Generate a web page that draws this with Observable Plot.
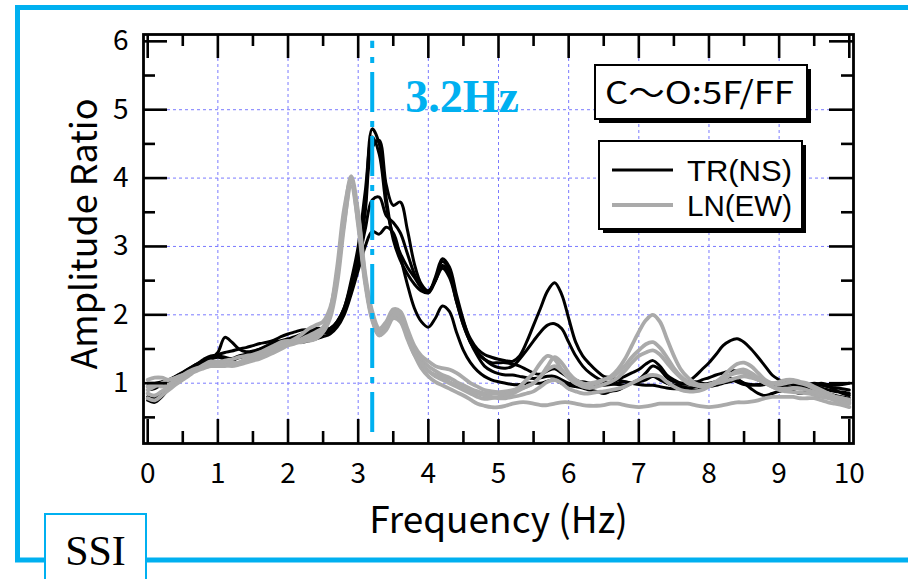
<!DOCTYPE html>
<html>
<head>
<meta charset="utf-8">
<script src="https://cdn.jsdelivr.net/npm/d3@7"></script>
<script src="https://cdn.jsdelivr.net/npm/@observablehq/plot@0.6"></script>
<style>
  html, body { margin: 0; padding: 0; background: #fff; }
  #chart { width: 908px; height: 579px; position: relative; overflow: hidden; }
</style>
</head>
<body>
<div id="chart"></div>
<script>
// ---------- data ----------
const freq = [0.0,0.1,0.2,0.3,0.4,0.5,0.6,0.7,0.8,0.9,
  1.0,1.1,1.2,1.3,1.4,1.5,1.6,1.7,1.8,1.9,
  2.0,2.1,2.2,2.3,2.4,2.5,2.6,2.7,2.8,2.9,
  3.0,3.1,3.2,3.3,3.4,3.5,3.6,3.7,3.8,3.9,
  4.0,4.1,4.2,4.3,4.4,4.5,4.6,4.7,4.8,4.9,
  5.0,5.1,5.2,5.3,5.4,5.5,5.6,5.7,5.8,5.9,
  6.0,6.1,6.2,6.3,6.4,6.5,6.6,6.7,6.8,6.9,
  7.0,7.1,7.2,7.3,7.4,7.5,7.6,7.7,7.8,7.9,
  8.0,8.1,8.2,8.3,8.4,8.5,8.6,8.7,8.8,8.9,
  9.0,9.1,9.2,9.3,9.4,9.5,9.6,9.7,9.8,9.9,10.0];

// TR(NS) records
const tr1 = [0.95,0.97,1.0,1.05,1.1,1.15,1.2,1.25,1.3,1.36,
  1.45,1.67,1.6,1.5,1.46,1.47,1.5,1.52,1.55,1.58,
  1.6,1.63,1.68,1.72,1.74,1.76,1.8,1.9,2.1,2.45,
  2.9,3.6,4.72,4.5,3.7,3.1,2.8,2.6,2.45,2.35,
  2.32,2.5,2.78,2.65,2.25,1.9,1.65,1.5,1.42,1.38,
  1.35,1.33,1.32,1.4,1.6,1.85,2.1,2.35,2.47,2.3,
  1.95,1.6,1.4,1.28,1.18,1.1,1.08,1.05,1.02,1.0,
  1.02,1.05,1.1,1.08,1.0,0.97,0.98,1.0,1.02,1.0,
  0.98,1.0,1.03,1.05,1.02,0.98,0.97,0.98,1.0,0.97,
  0.95,0.95,0.93,0.92,0.93,0.95,0.93,0.9,0.88,0.87,0.85];
const tr2 = [0.8,0.78,0.85,0.95,1.05,1.12,1.18,1.22,1.28,1.35,
  1.38,1.35,1.33,1.38,1.42,1.45,1.47,1.5,1.55,1.6,
  1.62,1.67,1.7,1.72,1.72,1.73,1.75,1.85,2.05,2.35,
  2.8,3.5,4.45,4.55,3.9,3.6,3.65,3.25,2.75,2.45,
  2.35,2.5,2.72,2.6,2.2,1.85,1.6,1.45,1.35,1.27,
  1.23,1.22,1.25,1.35,1.48,1.62,1.75,1.85,1.87,1.8,
  1.6,1.4,1.25,1.15,1.08,1.02,1.0,0.98,0.97,1.0,
  1.05,1.15,1.25,1.2,1.08,1.02,1.0,1.02,1.1,1.2,
  1.3,1.42,1.55,1.62,1.65,1.6,1.5,1.38,1.25,1.12,
  1.05,1.0,0.98,0.97,0.98,1.0,0.98,0.95,0.93,0.92,0.9];
const tr3 = [0.9,0.92,0.98,1.03,1.08,1.15,1.22,1.28,1.35,1.4,
  1.4,1.38,1.36,1.4,1.42,1.45,1.5,1.55,1.6,1.62,
  1.65,1.68,1.72,1.75,1.8,1.8,1.8,1.88,2.05,2.35,
  2.75,3.25,3.68,3.72,3.45,3.35,3.2,2.9,2.6,2.4,
  2.35,2.5,2.68,2.55,2.2,1.85,1.6,1.45,1.35,1.3,
  1.3,1.3,1.28,1.25,1.2,1.15,1.13,1.18,1.21,1.15,
  1.08,1.05,1.0,0.98,0.97,0.98,1.0,1.05,1.1,1.15,
  1.2,1.28,1.33,1.25,1.12,1.05,1.0,0.98,1.0,1.05,
  1.08,1.12,1.15,1.18,1.18,1.15,1.1,1.05,1.0,0.98,
  0.97,0.98,1.0,0.98,0.95,0.95,0.97,0.95,0.9,0.85,0.82];
const tr4 = [0.75,0.72,0.8,0.92,1.02,1.1,1.15,1.2,1.25,1.28,
  1.3,1.32,1.35,1.37,1.4,1.42,1.45,1.48,1.52,1.55,
  1.58,1.6,1.6,1.62,1.65,1.68,1.72,1.82,2.0,2.3,
  2.65,3.0,3.22,3.18,3.28,3.2,2.85,2.45,2.1,1.9,
  1.82,1.95,2.13,2.05,1.75,1.48,1.3,1.18,1.1,1.05,
  1.02,1.0,0.98,0.98,1.0,1.0,1.0,1.03,1.05,1.0,
  0.97,0.95,0.93,0.9,0.88,0.85,0.88,0.9,0.95,1.0,
  1.05,1.08,1.1,1.05,1.0,0.97,0.95,0.93,0.9,0.92,
  0.95,0.97,1.0,1.02,1.05,1.0,0.92,0.85,0.82,0.85,
  0.88,0.9,0.88,0.85,0.88,0.9,0.88,0.85,0.82,0.8,0.78];
const tr5 = [1.0,1.0,1.02,1.05,1.1,1.16,1.22,1.28,1.33,1.38,
  1.42,1.45,1.47,1.5,1.52,1.55,1.58,1.6,1.63,1.68,
  1.72,1.75,1.78,1.78,1.76,1.75,1.78,1.9,2.1,2.5,
  3.0,3.8,4.6,4.35,3.6,3.15,2.9,2.7,2.55,2.4,
  2.33,2.55,2.82,2.7,2.3,1.92,1.6,1.4,1.25,1.18,
  1.14,1.12,1.12,1.1,1.08,1.07,1.08,1.1,1.1,1.05,
  1.0,1.0,1.02,1.0,0.98,0.97,0.98,1.0,1.02,1.0,
  0.98,0.97,0.97,0.95,0.93,0.92,0.92,0.93,0.95,0.97,
  1.0,1.02,1.05,1.07,1.05,1.0,0.98,0.97,0.98,1.0,
  1.0,1.02,1.0,0.98,0.97,0.98,1.0,0.98,0.97,0.98,1.0];

// LN(EW) records
const ln1 = [1.05,1.08,1.08,1.05,1.08,1.12,1.18,1.22,1.25,1.28,
  1.3,1.33,1.35,1.38,1.4,1.42,1.45,1.48,1.52,1.56,
  1.6,1.65,1.72,1.8,1.85,1.9,2.1,2.6,3.45,4.03,
  3.5,2.6,2.05,1.8,1.9,2.08,2.05,1.8,1.55,1.4,
  1.32,1.25,1.22,1.2,1.15,1.08,1.0,0.95,0.9,0.88,
  0.87,0.88,0.9,0.92,0.95,1.0,1.1,1.25,1.38,1.3,
  1.15,1.05,1.0,0.98,1.0,1.05,1.1,1.2,1.35,1.55,
  1.75,1.92,2.0,1.9,1.65,1.4,1.2,1.08,1.0,0.97,
  0.98,1.02,1.1,1.2,1.28,1.3,1.25,1.15,1.05,1.0,
  0.98,1.0,1.02,1.0,0.97,0.92,0.88,0.85,0.8,0.75,0.72];
const ln2 = [0.85,0.82,0.88,0.95,1.02,1.1,1.15,1.2,1.25,1.3,
  1.32,1.3,1.28,1.3,1.35,1.4,1.45,1.5,1.55,1.6,
  1.62,1.6,1.6,1.65,1.7,1.75,1.95,2.45,3.3,3.95,
  3.45,2.55,2.0,1.75,1.85,2.05,2.0,1.75,1.5,1.35,
  1.25,1.18,1.12,1.08,1.02,0.97,0.92,0.88,0.85,0.85,
  0.85,0.86,0.88,0.95,1.05,1.15,1.3,1.4,1.35,1.2,
  1.08,1.0,0.98,1.0,1.02,1.05,1.08,1.15,1.25,1.38,
  1.48,1.57,1.6,1.52,1.38,1.22,1.1,1.02,0.98,0.97,
  0.98,1.02,1.08,1.12,1.15,1.15,1.1,1.05,1.02,1.0,
  1.02,1.05,1.05,1.02,1.0,0.95,0.9,0.85,0.8,0.78,0.75];
const ln3 = [0.78,0.75,0.82,0.9,0.98,1.05,1.12,1.2,1.27,1.32,
  1.3,1.27,1.25,1.27,1.3,1.33,1.36,1.4,1.45,1.5,
  1.55,1.58,1.62,1.66,1.72,1.78,2.0,2.55,3.35,3.88,
  3.35,2.5,1.95,1.7,1.8,1.98,1.95,1.72,1.48,1.3,
  1.18,1.1,1.05,1.0,0.95,0.9,0.85,0.8,0.77,0.78,
  0.8,0.82,0.85,0.9,0.95,1.0,1.1,1.2,1.25,1.18,
  1.08,1.0,0.95,0.93,0.95,0.98,1.02,1.08,1.18,1.3,
  1.4,1.45,1.48,1.42,1.3,1.18,1.08,1.0,0.97,0.95,
  0.97,1.0,1.02,1.05,1.08,1.1,1.08,1.05,1.0,0.95,
  0.9,0.88,0.87,0.86,0.85,0.83,0.8,0.78,0.75,0.72,0.7];
const ln4 = [0.9,0.95,1.0,1.05,1.08,1.12,1.15,1.18,1.22,1.26,
  1.3,1.32,1.3,1.3,1.32,1.35,1.38,1.42,1.48,1.55,
  1.6,1.62,1.65,1.7,1.75,1.82,2.05,2.6,3.4,3.98,
  3.4,2.5,1.95,1.72,1.82,2.0,1.95,1.68,1.42,1.22,
  1.1,1.02,0.97,0.92,0.87,0.82,0.76,0.7,0.67,0.65,
  0.65,0.67,0.7,0.72,0.72,0.7,0.68,0.68,0.7,0.72,
  0.72,0.7,0.68,0.67,0.67,0.68,0.7,0.7,0.68,0.66,
  0.65,0.66,0.68,0.7,0.7,0.7,0.7,0.7,0.68,0.66,
  0.65,0.66,0.68,0.7,0.72,0.72,0.73,0.75,0.78,0.8,
  0.8,0.8,0.8,0.78,0.78,0.78,0.75,0.72,0.7,0.68,0.65];
const ln5 = [0.95,0.98,0.95,0.98,1.05,1.1,1.15,1.2,1.23,1.25,
  1.25,1.25,1.27,1.3,1.35,1.38,1.4,1.45,1.5,1.55,
  1.58,1.6,1.62,1.62,1.65,1.75,2.05,2.7,3.55,3.98,
  3.3,2.45,1.92,1.7,1.78,1.95,1.9,1.65,1.42,1.28,
  1.18,1.12,1.08,1.02,0.97,0.92,0.88,0.85,0.82,0.8,
  0.78,0.78,0.8,0.82,0.85,0.88,0.95,1.02,1.05,1.0,
  0.92,0.88,0.85,0.85,0.87,0.88,0.9,0.92,0.95,1.0,
  1.05,1.1,1.12,1.1,1.02,0.95,0.9,0.88,0.88,0.9,
  0.95,1.0,1.05,1.12,1.18,1.2,1.15,1.08,1.0,0.95,
  0.92,0.92,0.93,0.92,0.9,0.87,0.85,0.82,0.8,0.78,0.76];

const seriesNames = ["TR(NS)", "LN(EW)"];
const trRecords = [tr1, tr2, tr3, tr4, tr5];
const lnRecords = [ln1, ln2, ln3, ln4, ln5];

const xTicksMajor = [0,1,2,3,4,5,6,7,8,9,10];
const xTicksMinor = [0.5,1.5,2.5,3.5,4.5,5.5,6.5,7.5,8.5,9.5];
const yTicksMajor = [1,2,3,4,5,6];
const yTicksMinor = [0.5,1.5,2.5,3.5,4.5,5.5];
const xGrid = [1,2,3,4,5,6,7,8,9];
const yGrid = [1,2,3,4,5];

const xLabel = "Frequency (Hz)";
const yLabel = "Amplitude Ratio";
const peakFreq = [3.2];
const peakLineRange = [0.28, 6.0];
const peakText = ["3.2Hz"];
const peakTextPos = [3.67, 5.18];
const caseLabel = "C〜O:5F/FF";
const panelLabel = "SSI";

// ---------- build table ----------
function toRows(records, name) {
  const rows = [];
  records.forEach((vals, i) => {
    vals.forEach((v, j) => rows.push({f: freq[j], v, id: name + i, series: name}));
  });
  return rows;
}
const trRows = toRows(trRecords, seriesNames[0]);
const lnRows = toRows(lnRecords, seriesNames[1]);

const W = 908, H = 579;
const mL = 143, mR = 55, mT = 34, mB = 136;
const frameH = H - mT - mB, frameW = W - mL - mR;
const majorLen = 24, minorLen = 12;
const CYAN = "#00b0f0";
const GRAY = "#aaaaaa";
const sansFont = "'Noto Sans CJK JP', 'Noto Sans', sans-serif";
const legendFont = "'Liberation Sans', Arial, sans-serif";

const plot = Plot.plot({
  width: W, height: H,
  marginLeft: mL, marginRight: mR, marginTop: mT, marginBottom: mB,
  style: {fontFamily: sansFont, fontSize: "27px", color: "#000", background: "transparent"},
  x: {domain: [-0.06, 10.06]},
  y: {domain: [0.118, 6.1]},
  marks: [
    Plot.ruleX(xGrid, {x: d => d, stroke: "#7a7aff", strokeDasharray: "3,3", strokeWidth: 1}),
    Plot.ruleY(yGrid, {y: d => d, stroke: "#7a7aff", strokeDasharray: "3,3", strokeWidth: 1}),
    Plot.line(trRows, {x: "f", y: "v", z: "id", stroke: "#000", strokeWidth: 3, curve: "catmull-rom"}),
    Plot.line(lnRows, {x: "f", y: "v", z: "id", stroke: GRAY, strokeWidth: 3.8, curve: "catmull-rom"}),
    Plot.ruleX(peakFreq, {x: d => d, y1: peakLineRange[0], y2: peakLineRange[1], stroke: CYAN, strokeWidth: 4, strokeDasharray: "40,9,6,9"}),
    // ticks (inward)
    Plot.ruleX(xTicksMajor, {x: d => d, insetTop: frameH - majorLen, stroke: "#000", strokeWidth: 2.6}),
    Plot.ruleX(xTicksMinor, {x: d => d, insetTop: frameH - minorLen, stroke: "#000", strokeWidth: 2.6}),
    Plot.ruleX(xTicksMajor, {x: d => d, insetBottom: frameH - majorLen, stroke: "#000", strokeWidth: 2.6}),
    Plot.ruleX(xTicksMinor, {x: d => d, insetBottom: frameH - minorLen, stroke: "#000", strokeWidth: 2.6}),
    Plot.ruleY(yTicksMajor, {y: d => d, insetRight: frameW - majorLen, stroke: "#000", strokeWidth: 2.6}),
    Plot.ruleY(yTicksMinor, {y: d => d, insetRight: frameW - minorLen, stroke: "#000", strokeWidth: 2.6}),
    Plot.ruleY(yTicksMajor, {y: d => d, insetLeft: frameW - majorLen, stroke: "#000", strokeWidth: 2.6}),
    Plot.ruleY(yTicksMinor, {y: d => d, insetLeft: frameW - minorLen, stroke: "#000", strokeWidth: 2.6}),
    Plot.frame({stroke: "#000", strokeWidth: 2.8}),
    Plot.axisX({ticks: xTicksMajor, tickFormat: d => String(d), tickSize: 0, tickPadding: 20, label: null, fontSize: 28}),
    Plot.axisY({ticks: yTicksMajor, tickFormat: d => String(d), tickSize: 0, tickPadding: 15, label: null, fontSize: 28}),
    Plot.text([xLabel], {frameAnchor: "bottom", dy: 78, lineAnchor: "middle", textAnchor: "middle", fontSize: 37, text: d => d}),
    Plot.text([yLabel], {frameAnchor: "left", dx: -58, dy: -5, rotate: -90, lineAnchor: "middle", textAnchor: "middle", fontSize: 36, text: d => d}),
    Plot.text(peakText, {x: () => peakTextPos[0], y: () => peakTextPos[1], text: d => d, textAnchor: "start",
      fill: CYAN, fontFamily: "'Liberation Serif', 'Times New Roman', serif", fontWeight: "bold", fontSize: 46})
  ]
});

document.getElementById("chart").appendChild(plot);

// ---------- decorations: panel border, panel label, legend ----------
const svg = d3.select(plot);
const deco = svg.append("g").attr("text-anchor", "start");
// cyan panel border (top, left, bottom)
deco.append("path")
  .attr("d", `M${W},7.5 H17.5 V560 H${W}`)
  .attr("fill", "none").attr("stroke", CYAN).attr("stroke-width", 5);
// SSI tab
deco.append("rect").attr("x", 45).attr("y", 514).attr("width", 101).attr("height", 80)
  .attr("fill", "#fff").attr("stroke", CYAN).attr("stroke-width", 2);
deco.append("text").attr("x", 95.5).attr("y", 565).attr("text-anchor", "middle")
  .attr("font-family", "'Liberation Serif', 'Times New Roman', serif").attr("font-size", 42)
  .attr("fill", "#000").text(panelLabel);

function shadowBox(x, y, w, h) {
  deco.append("rect").attr("x", x + 4).attr("y", y + 4).attr("width", w).attr("height", h).attr("fill", "#000");
  deco.append("rect").attr("x", x).attr("y", y).attr("width", w).attr("height", h)
    .attr("fill", "#fff").attr("stroke", "#000").attr("stroke-width", 2);
}
// case label box
shadowBox(595, 65, 212, 54);
deco.append("text").attr("x", 605).attr("y", 104).attr("font-size", 31).attr("text-anchor", "start")
  .attr("font-family", sansFont).attr("textLength", 189).attr("lengthAdjust", "spacingAndGlyphs")
  .text(caseLabel);
// series legend
shadowBox(599, 141, 203, 88);
const legendColors = ["#000", GRAY];
const legendWidths = [3, 4];
seriesNames.forEach((name, i) => {
  const yy = 170 + i * 35;
  deco.append("line").attr("x1", 612).attr("x2", 673).attr("y1", yy).attr("y2", yy)
    .attr("stroke", legendColors[i]).attr("stroke-width", legendWidths[i]);
  deco.append("text").attr("x", 687).attr("y", yy + 11).attr("font-size", 30).attr("text-anchor", "start")
    .attr("font-family", legendFont).attr("textLength", 105).attr("lengthAdjust", "spacingAndGlyphs")
    .text(name);
});
</script>
</body>
</html>
